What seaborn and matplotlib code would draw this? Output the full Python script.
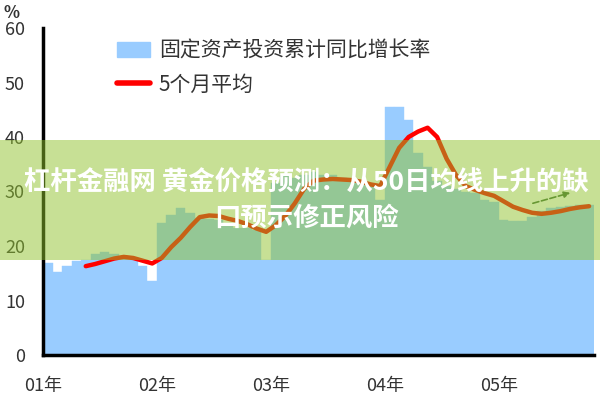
import numpy as np
import matplotlib
matplotlib.use('Agg')
import matplotlib.pyplot as plt
import seaborn as sns
from matplotlib.patches import Patch, Rectangle
from matplotlib.lines import Line2D

# 数据：固定资产投资累计同比增长率（月度，01年1月起）
invest_growth = [16.8, 15.3, 16.3, 17.3, 17.5, 18.6, 18.9, 18.5, 17.8, 17.6, 16.3, 13.5,
                 24.2, 25.7, 27.0, 26.0, 25.2, 25.0, 24.8, 24.0, 23.3, 23.3, 23.0, 17.4,
                 31.5, 33.0, 32.5, 33.0, 33.5, 33.0, 33.0, 32.5, 32.0, 31.5, 31.2, 28.4,
                 45.5, 45.5, 43.1, 37.0, 34.5, 32.0, 31.0, 30.5, 30.0, 29.7, 28.4, 28.1,
                 24.8, 24.5, 24.5, 25.3, 26.5, 27.0, 27.2, 27.3, 27.6, 27.6]
# 5个月平均（从第5个月开始）
avg5 = [16.3, 16.7, 17.2, 17.7, 18.0, 17.8, 17.3, 16.8,
        17.8, 19.8, 21.5, 23.5, 25.3, 25.6, 25.5, 25.0, 24.6, 24.0, 23.2, 22.6,
        23.8, 25.5, 27.8, 30.5, 32.0, 32.2, 32.3, 32.2, 32.1, 31.8, 31.3, 31.0,
        34.5, 38.0, 40.0, 41.0, 41.7, 40.0, 36.0, 33.0, 31.0, 30.3, 29.7, 29.2,
        28.2, 27.2, 26.6, 26.1, 25.9, 26.1, 26.4, 26.8, 27.1, 27.3]
year_labels = ['01年', '02年', '03年', '04年', '05年']
avg_start = 4  # 平均线起始月份序号

month_idx = np.arange(len(invest_growth))
bar_x = month_idx + 0.5
line_x = np.arange(avg_start, avg_start + len(avg5)) + 0.5

sns.set_style('white')
plt.rcParams['font.family'] = ['Noto Sans CJK SC', 'DejaVu Sans']

bar_color = '#99ccff'
fig = plt.figure(figsize=(6, 4), dpi=100)
ax = fig.add_axes([0.0717, 0.1125, 0.918, 0.8175])

sns.barplot(x=bar_x, y=invest_growth, native_scale=True, width=1, color=bar_color,
            saturation=1, edgecolor=bar_color, linewidth=0.3, ax=ax)
sns.lineplot(x=line_x, y=avg5, color='red', lw=3.2, ax=ax)

# 箭头注释
ax.annotate('', xy=(55.8, 29.9), xytext=(51.3, 27.7),
            arrowprops=dict(arrowstyle='-|>', color='#3d6b3a', lw=1.2, ls='--',
                            mutation_scale=9))

ax.set_xlim(0, len(invest_growth))
ax.set_ylim(0, 60)
ax.set_yticks(range(0, 61, 10))
ax.set_xticks(range(0, 60, 12))
ax.set_xticklabels(year_labels)
ax.set_xlabel('')
ax.set_ylabel('')
sns.despine(ax=ax)
for s in ['left', 'bottom']:
    ax.spines[s].set_linewidth(2.5)
    ax.spines[s].set_color('black')
ax.tick_params(axis='both', direction='out', length=6, width=2, color='black',
               labelsize=13, labelcolor='#333333')
ax.tick_params(axis='y', pad=7)
ax.tick_params(axis='x', pad=10)
fig.text(0.005, 0.955, '%', fontsize=12, color='#333333', fontweight='bold')

handles = [Patch(color=bar_color), Line2D([0], [0], color='red', lw=4)]
fig.legend(handles, ['固定资产投资累计同比增长率', '5个月平均'], loc='upper left',
           bbox_to_anchor=(0.195, 0.9), frameon=False, fontsize=15, borderpad=0,
           borderaxespad=0, handlelength=1.6, handletextpad=0.4, labelspacing=0.55,
           labelcolor='#333333')

# 绿色横幅
fig.patches.append(Rectangle((0, 0.35), 1, 0.3, transform=fig.transFigure,
                             facecolor='#91c32d', alpha=0.5, edgecolor='none', zorder=5))
fig.text(0.51, 0.5425, '杠杆金融网 黄金价格预测：从50日均线上升的缺', ha='center', va='center',
         color='white', fontsize=19, fontweight='bold', zorder=6)
fig.text(0.51, 0.455, '口预示修正风险', ha='center', va='center',
         color='white', fontsize=19, fontweight='bold', zorder=6)

fig.savefig('out.png', dpi=100)
